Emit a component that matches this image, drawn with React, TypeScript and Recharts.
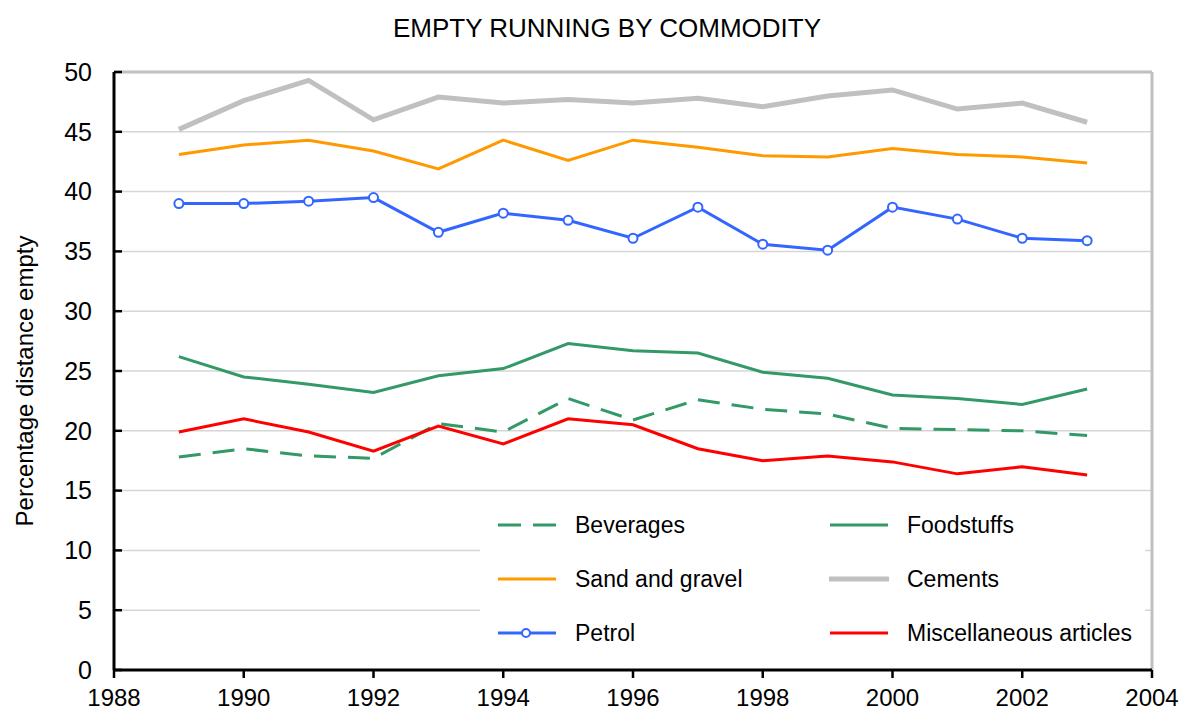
import React from "react";
import {
  LineChart,
  Line,
  XAxis,
  YAxis,
  CartesianGrid,
  Legend,
  ReferenceLine,
} from "recharts";

const years = [1989, 1990, 1991, 1992, 1993, 1994, 1995, 1996, 1997, 1998, 1999, 2000, 2001, 2002, 2003];

const beverages = [17.8, 18.5, 17.9, 17.7, 20.6, 19.9, 22.7, 20.9, 22.6, 21.8, 21.4, 20.2, 20.1, 20.0, 19.6];
const foodstuffs = [26.2, 24.5, 23.9, 23.2, 24.6, 25.2, 27.3, 26.7, 26.5, 24.9, 24.4, 23.0, 22.7, 22.2, 23.5];
const sandAndGravel = [43.1, 43.9, 44.3, 43.4, 41.9, 44.3, 42.6, 44.3, 43.7, 43.0, 42.9, 43.6, 43.1, 42.9, 42.4];
const cements = [45.2, 47.6, 49.3, 46.0, 47.9, 47.4, 47.7, 47.4, 47.8, 47.1, 48.0, 48.5, 46.9, 47.4, 45.8];
const petrol = [39.0, 39.0, 39.2, 39.5, 36.6, 38.2, 37.6, 36.1, 38.7, 35.6, 35.1, 38.7, 37.7, 36.1, 35.9];
const miscellaneous = [19.9, 21.0, 19.9, 18.3, 20.4, 18.9, 21.0, 20.5, 18.5, 17.5, 17.9, 17.4, 16.4, 17.0, 16.3];

const xTicks = [1988, 1990, 1992, 1994, 1996, 1998, 2000, 2002, 2004];
const yTicks = [0, 5, 10, 15, 20, 25, 30, 35, 40, 45, 50];

const FONT = '"Liberation Sans", Arial, sans-serif';

interface SeriesDef {
  key: string;
  name: string;
  color: string;
  width: number;
  dash?: string;
  dot?: boolean;
}

const SERIES: SeriesDef[] = [
  { key: "beverages", name: "Beverages", color: "#339966", width: 3, dash: "22 12" },
  { key: "foodstuffs", name: "Foodstuffs", color: "#339966", width: 3 },
  { key: "sand", name: "Sand and gravel", color: "#ff9900", width: 3 },
  { key: "cements", name: "Cements", color: "#c0c0c0", width: 5 },
  { key: "petrol", name: "Petrol", color: "#3366ff", width: 3, dot: true },
  { key: "misc", name: "Miscellaneous articles", color: "#ff0000", width: 3 },
];

const data = years.map((year, i) => ({
  year,
  beverages: beverages[i],
  foodstuffs: foodstuffs[i],
  sand: sandAndGravel[i],
  cements: cements[i],
  petrol: petrol[i],
  misc: miscellaneous[i],
}));

const LegendIcon = ({ s }: { s: SeriesDef }) => (
  <svg width={60} height={12} style={{ display: "block" }}>
    <line
      x1={1}
      y1={6}
      x2={59}
      y2={6}
      stroke={s.color}
      strokeWidth={s.width === 5 ? 5 : 3}
      strokeDasharray={s.dash ? "23 12" : undefined}
      strokeLinecap={s.width === 5 ? "round" : "butt"}
    />
    {s.dot && <circle cx={29} cy={6} r={4} fill="#fff" stroke={s.color} strokeWidth={2} />}
  </svg>
);

const renderLegend = () => (
  <div
    style={{
      background: "#fff",
      width: "100%",
      height: "100%",
      display: "grid",
      gridTemplateColumns: "332px 333px",
      gridAutoRows: "54px",
      paddingTop: 6,
      boxSizing: "border-box",
      fontFamily: FONT,
      fontSize: 23,
      color: "#000",
    }}
  >
    {SERIES.map((s) => (
      <div key={s.key} style={{ display: "flex", alignItems: "center", paddingLeft: 17 }}>
        <LegendIcon s={s} />
        <span style={{ marginLeft: 18, whiteSpace: "nowrap" }}>{s.name}</span>
      </div>
    ))}
  </div>
);

const YLabel = (props: any) => {
  const vb = props.viewBox || {};
  const cx = 24;
  const cy = (vb.y ?? 0) + (vb.height ?? 0) / 2 + 10;
  return (
    <text
      x={cx}
      y={cy}
      transform={`rotate(-90 ${cx} ${cy})`}
      textAnchor="middle"
      dominantBaseline="central"
      fontSize={24}
      fontFamily={FONT}
      fill="#000"
    >
      Percentage distance empty
    </text>
  );
};

export default function App() {
  return (
    <div style={{ position: "absolute", left: 0, top: 0, width: 1179, height: 713, background: "#fff" }}>
      <div
        style={{
          position: "absolute",
          left: 0,
          top: 15,
          width: 1214,
          textAlign: "center",
          fontFamily: FONT,
          fontSize: 26,
          lineHeight: "26px",
          color: "#000",
        }}
      >
        EMPTY RUNNING BY COMMODITY
      </div>
      <LineChart
        width={1179}
        height={713}
        data={data}
        margin={{ top: 72, right: 27, bottom: 0, left: 0 }}
        style={{ fontFamily: FONT }}
      >
        <CartesianGrid vertical={false} stroke="#d6d6d6" strokeWidth={1.5} />
        <XAxis
          dataKey="year"
          type="number"
          domain={[1988, 2004]}
          ticks={xTicks}
          height={43}
          tickSize={8}
          tickMargin={11}
          axisLine={{ stroke: "#000", strokeWidth: 3 }}
          tickLine={{ stroke: "#000", strokeWidth: 2.5 }}
          tick={{ fill: "#000", fontSize: 24 }}
          interval={0}
        />
        <YAxis
          type="number"
          domain={[0, 50]}
          ticks={yTicks}
          width={114}
          tickSize={-8}
          tickMargin={30}
          axisLine={{ stroke: "#000", strokeWidth: 3 }}
          tickLine={{ stroke: "#000", strokeWidth: 2.5 }}
          tick={{ fill: "#000", fontSize: 25 }}
          interval={0}
          label={<YLabel />}
        />
        <ReferenceLine y={50} stroke="#c0c0c0" strokeWidth={3} />
        <ReferenceLine x={2004} stroke="#c0c0c0" strokeWidth={3} />
        {SERIES.map((s) => (
          <Line
            key={s.key}
            type="linear"
            dataKey={s.key}
            name={s.name}
            stroke={s.color}
            strokeWidth={s.width}
            strokeDasharray={s.dash}
            dot={s.dot ? { r: 4.5, fill: "#fff", stroke: s.color, strokeWidth: 2 } : false}
            activeDot={false}
            isAnimationActive={false}
          />
        ))}
        <Legend
          layout="horizontal"
          verticalAlign="middle"
          align="center"
          content={renderLegend}
          wrapperStyle={{ left: 480, top: 492, width: 665, height: 176 }}
        />
      </LineChart>
    </div>
  );
}
